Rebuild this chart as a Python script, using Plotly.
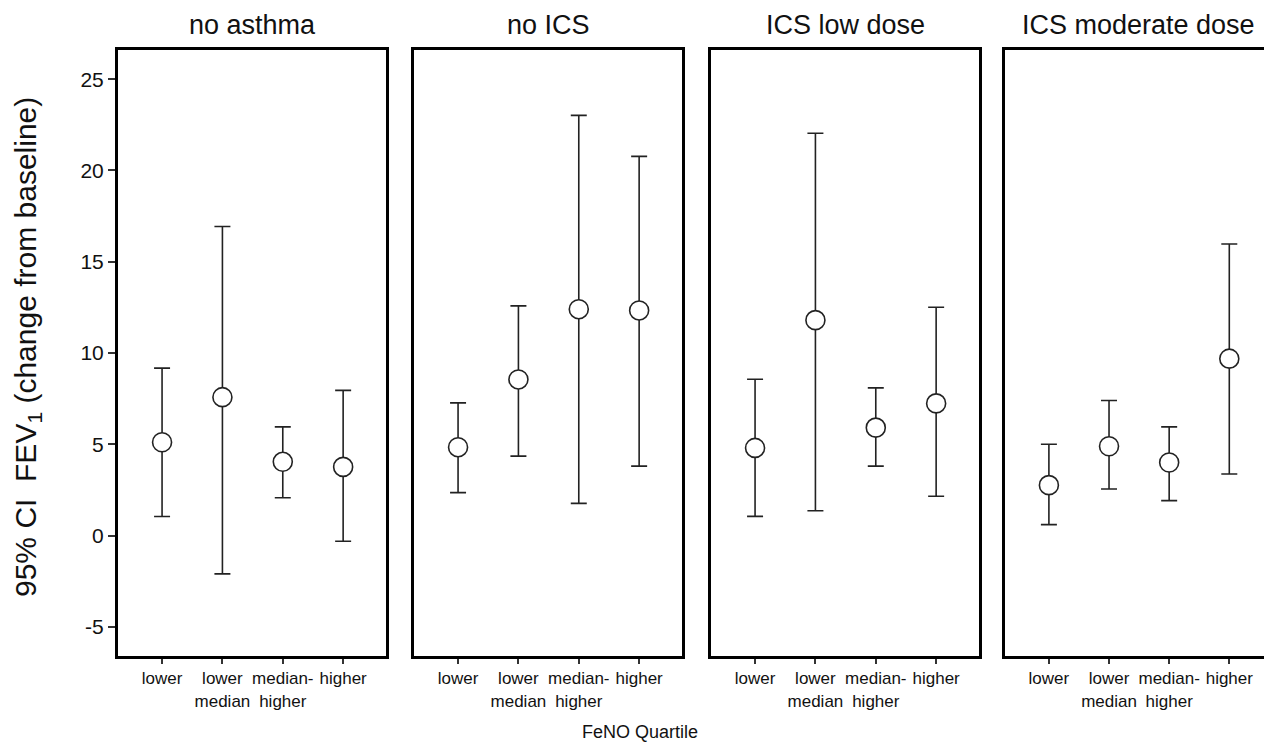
import plotly.graph_objects as go

panels = ["no asthma", "no ICS", "ICS low dose", "ICS moderate dose"]
quartiles = ["lower", "lower<br>median", "median-<br>higher", "higher"]
quartile_pos = [1, 2, 3, 4]

est_no_asthma = [5.11, 7.58, 4.04, 3.76]
low_no_asthma = [1.04, -2.10, 2.07, -0.31]
up_no_asthma = [9.17, 16.93, 5.95, 7.95]

est_no_ics = [4.84, 8.55, 12.40, 12.33]
low_no_ics = [2.35, 4.35, 1.76, 3.80]
up_no_ics = [7.27, 12.58, 23.02, 20.77]

est_low = [4.80, 11.80, 5.91, 7.24]
low_low = [1.05, 1.36, 3.80, 2.15]
up_low = [8.56, 22.04, 8.09, 12.51]

est_mod = [2.76, 4.89, 4.00, 9.69]
low_mod = [0.60, 2.55, 1.91, 3.37]
up_mod = [5.00, 7.40, 5.95, 15.97]

estimates = [est_no_asthma, est_no_ics, est_low, est_mod]
lowers = [low_no_asthma, low_no_ics, low_low, low_mod]
uppers = [up_no_asthma, up_no_ics, up_low, up_mod]

yticks = [-5, 0, 5, 10, 15, 20, 25]
yticklabels = ["-5", "0", "5", "10", "15", "20", "25"]

# page body has an 8px margin; figure is sized/offset to compensate
OFF = 8
W, H = 1272 - OFF, 749 - OFF
FONT = "Liberation Sans, Arial, sans-serif"


def px(x):
    return (x - OFF) / W


def py(y):
    return 1 - (y - OFF) / H


lefts = [118, 414, 711, 1005]
rights = [386, 682, 979, 1272]
ydom = [py(656), py(50)]

fig = go.Figure()
layout = dict(
    width=W, height=H, margin=dict(l=0, r=0, t=0, b=0),
    paper_bgcolor="white", plot_bgcolor="white", showlegend=False,
    font=dict(family=FONT, color="#111"),
)
annotations = []
for i in range(4):
    ax = "" if i == 0 else str(i + 1)
    xa, ya = "x" + ax, "y" + ax
    est, lo, up = estimates[i], lowers[i], uppers[i]
    fig.add_trace(go.Scatter(
        x=quartile_pos, y=est, xaxis=xa, yaxis=ya, mode="markers",
        marker=dict(size=1, opacity=0),
        error_y=dict(type="data", symmetric=False,
                     array=[u - e for u, e in zip(up, est)],
                     arrayminus=[e - l for e, l in zip(est, lo)],
                     color="#222", thickness=1.6, width=8),
        hoverinfo="skip"))
    fig.add_trace(go.Scatter(
        x=quartile_pos, y=est, xaxis=xa, yaxis=ya, mode="markers",
        marker=dict(symbol="circle", size=19, color="white",
                    line=dict(color="#222", width=1.6))))
    layout["xaxis" + ax] = dict(
        domain=[px(lefts[i]), min(px(rights[i]), 1.0)], range=[0.27, 4.71],
        anchor=ya, tickvals=quartile_pos, ticktext=quartiles, tickangle=0,
        ticks="outside", ticklen=5, tickwidth=1.5, tickcolor="#333",
        tickfont=dict(size=17, family=FONT, color="#111"),
        showline=True, linewidth=3, linecolor="black", mirror=True,
        showgrid=False, zeroline=False, fixedrange=True)
    ydict = dict(
        domain=ydom, range=[-6.6, 26.6], anchor=xa,
        showline=True, linewidth=3, linecolor="black",
        mirror=(i < 3), showgrid=False, zeroline=False, fixedrange=True)
    if i == 0:
        ydict.update(tickvals=yticks, ticktext=yticklabels, ticks="outside",
                     ticklen=7, tickwidth=1.5, tickcolor="#333",
                     tickfont=dict(size=21, family=FONT, color="#111"))
    else:
        ydict.update(showticklabels=False, ticks="")
    layout["yaxis" + ax] = ydict
    annotations.append(dict(
        text=panels[i], xref="paper", yref="paper",
        x=px((lefts[i] + rights[i]) / 2), y=py(25),
        xanchor="center", yanchor="middle", showarrow=False,
        font=dict(size=27, family=FONT, color="#111")))

annotations.append(dict(
    text="95% CI  FEV<sub>1</sub> (change from baseline)",
    xref="paper", yref="paper", x=px(27), y=py(347),
    xanchor="center", yanchor="middle", textangle=-90, showarrow=False,
    font=dict(size=30, family=FONT, color="#111")))
annotations.append(dict(
    text="FeNO Quartile", xref="paper", yref="paper",
    x=px(640), y=py(732), xanchor="center", yanchor="middle",
    showarrow=False, font=dict(size=18, family=FONT, color="#111")))
layout["annotations"] = annotations
fig.update_layout(**layout)
fig.write_html("out.html")
